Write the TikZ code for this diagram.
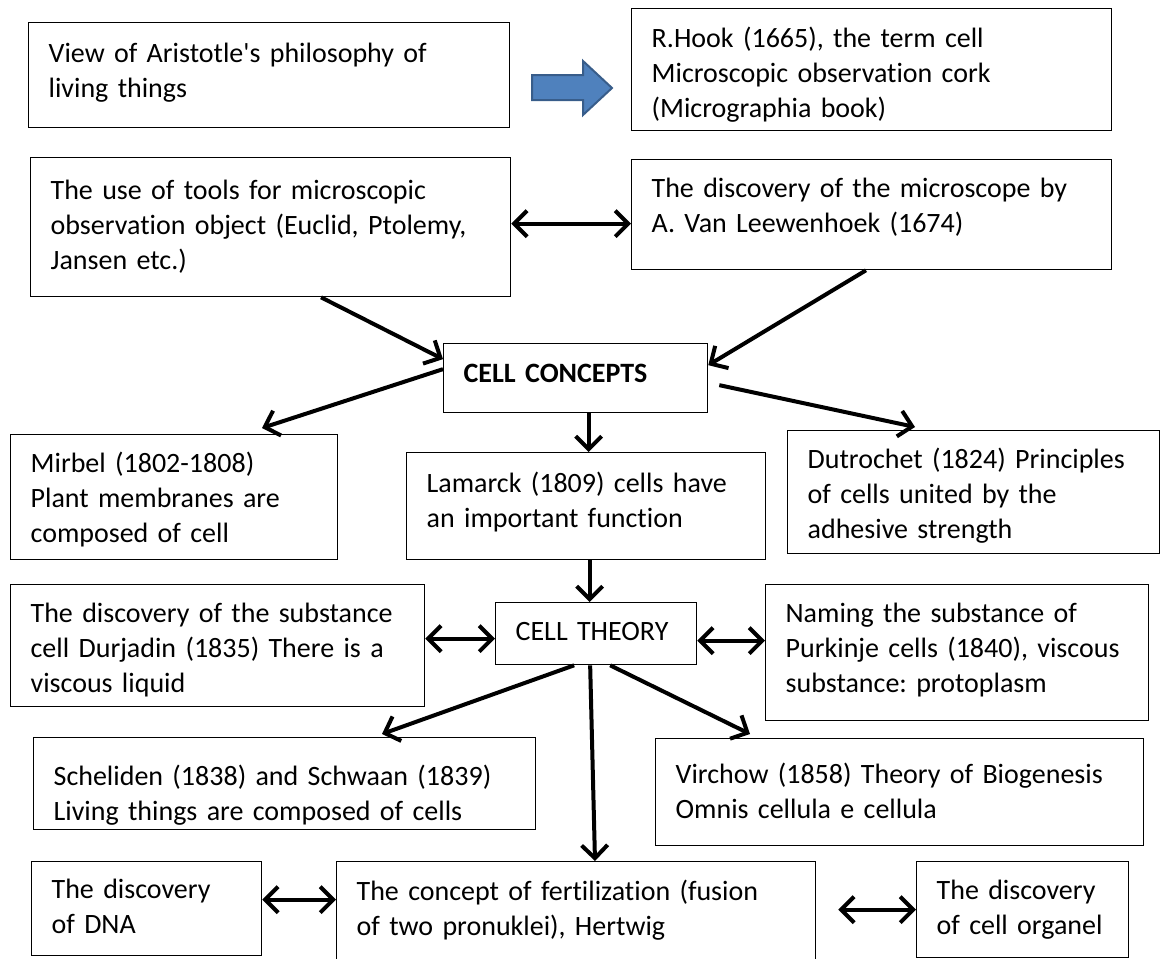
\documentclass[tikz,border=0pt]{standalone}
\usepackage{fontspec}
\setmainfont{Carlito}[Ligatures={TeXOff,CommonOff}]
\usetikzlibrary{arrows.meta}
\definecolor{arrowfill}{HTML}{4F81BD}
\definecolor{arrowline}{HTML}{385D8A}
\frenchspacing
\tikzset{
  box/.style={
    draw=black, line width=1.3pt,
    anchor=north west,
    align=left,
    inner xsep=20pt, inner ysep=14.5pt,
    font=\fontsize{28}{35}\selectfont,
  },
  % width, height, first baseline below the top
  boxsize/.style n args={3}{
    minimum width=#1pt, minimum height=#2pt,
    text width=#1pt-40pt,
    text height=#3pt-14.5pt,
    text depth=#2pt-#3pt-14.5pt
  },
  conn/.style={
    line width=4pt, -{Straight Barb[length=13pt, width=26pt]}
  },
  link/.style={
    line width=4pt, {Straight Barb[length=13pt, width=26pt]}-{Straight Barb[length=13pt, width=26pt]}
  },
  flow/.style={
    fill=arrowfill, draw=arrowline, line width=2pt, line join=miter
  }
}

\begin{document}
\begin{tikzpicture}[x=1pt, y=-1pt]
  \useasboundingbox (0,0) rectangle (1161,958);

  % history before the concept
  \node[box, boxsize={481}{105}{40}] (aris) at (28,22) {View of Aristotle's philosophy of\\living things};
  \node[box, boxsize={480}{122}{39}] (hook) at (631,8) {R.Hook (1665), the term cell\\Microscopic observation cork\\(Micrographia book)};
  \node[box, boxsize={480}{139}{42}] (tools) at (30,157) {The use of tools for microscopic\\observation object (Euclid, Ptolemy,\\Jansen etc.)};
  \node[box, boxsize={480}{110}{38}] (micro) at (631,159) {The discovery of the microscope by\\A. Van Leewenhoek (1674)};
  \draw[flow] (532,75) -- (583,75) -- (583,61) -- (612,88) -- (583,115) -- (583,100) -- (532,100) -- cycle;

  % cell concepts
  \node[box, boxsize={264}{69}{39}] (cc) at (443,343) {\textbf{CELL CONCEPTS}};
  \node[box, boxsize={327}{125}{38}] (mirbel) at (10,434) {Mirbel (1802-1808)\\Plant membranes are\\composed of cell};
  \node[box, boxsize={359}{107}{40}] (lam) at (406,452) {Lamarck (1809) cells have\\an important function};
  \node[box, boxsize={372}{123}{38}] (dutro) at (787,430) {Dutrochet (1824) Principles\\of cells united by the\\adhesive strength};

  % cell theory
  \node[box, boxsize={201}{62}{38}] (ct) at (495,602) {CELL THEORY};
  \node[box, boxsize={414}{122}{38}] (dur) at (10,584) {The discovery of the substance\\cell Durjadin (1835) There is a\\viscous liquid};
  \node[box, boxsize={383}{136}{38}] (purk) at (765,584) {Naming the substance of\\Purkinje cells (1840), viscous\\substance: protoplasm};
  \node[box, boxsize={502}{92}{48}] (schel) at (33,737) {Scheliden (1838) and Schwaan (1839)\\Living things are composed of cells};
  \node[box, boxsize={488}{107}{45}] (virch) at (655,738) {Virchow (1858) Theory of Biogenesis\\Omnis cellula e cellula};
  \node[box, boxsize={230}{94}{37}] (dna) at (31,861) {The discovery\\of DNA};
  \node[box, boxsize={479}{109}{39}] (fert) at (336,861) {The concept of fertilization (fusion\\of two pronuklei), Hertwig};
  \node[box, boxsize={212}{96}{38}] (organ) at (916,861) {The discovery\\of cell organel};

  \draw[link] ([yshift=3.5pt]tools.east) -- ([yshift=3.5pt]tools.east -| micro.west);
  \draw[conn] ([xshift=291pt]tools.south west) -- ([yshift=19pt]cc.west);
  \draw[conn] ([xshift=235pt]micro.south west) -- ([yshift=13pt]cc.east);
  \draw[conn] ([yshift=9pt]cc.west) -- ([xshift=252pt, yshift=6pt]mirbel.north west);
  \draw[conn] ([xshift=11pt, yshift=-7pt]cc.east) -- ([xshift=128pt, yshift=3pt]dutro.north west);
  \draw[conn] ([xshift=13pt]cc.south) -- ([xshift=13pt]cc.south |- lam.north);
  \draw[conn] ([xshift=3.5pt]lam.south) -- ([xshift=3.5pt]lam.south |- ct.north);

  \draw[link] ([yshift=-5pt]ct.west -| dur.east) -- ([yshift=-5pt]ct.west);
  \draw[link] ([yshift=-7pt]ct.east) -- ([yshift=-7pt]ct.east -| purk.west);
  \draw[conn] ([xshift=-22pt]ct.south) -- ([xshift=349pt, yshift=3pt]schel.north west);
  \draw[conn] ([xshift=14pt]ct.south) -- ([xshift=95pt, yshift=4pt]virch.north west);
  \draw[conn] ([xshift=-6pt]ct.south) -- ([xshift=259pt]fert.north west);
  \draw[link] ([yshift=9pt]dna.east) -- ([yshift=9pt]dna.east -| fert.west);
  \draw[link] ([xshift=22pt]fert.east |- organ.west) -- (organ.west);
\end{tikzpicture}
\end{document}
